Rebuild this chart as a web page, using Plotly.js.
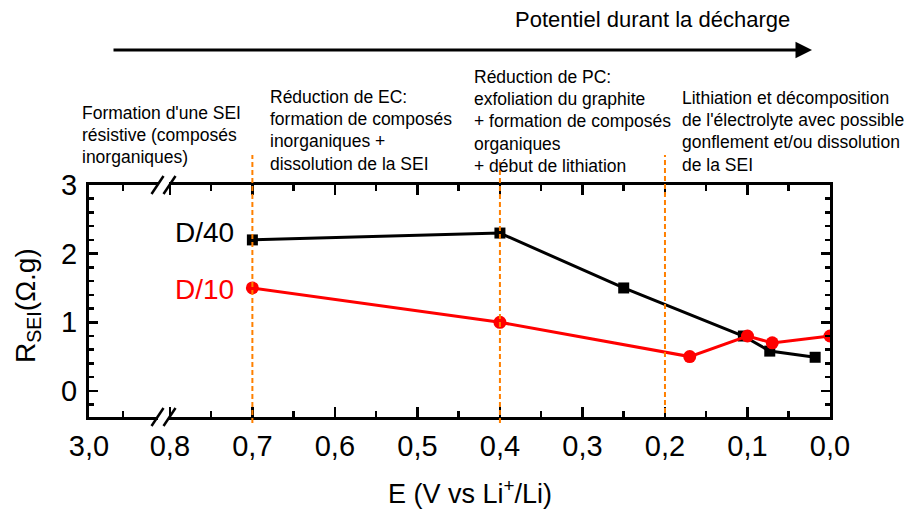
<!DOCTYPE html>
<html>
<head>
<meta charset="utf-8">
<script src="https://cdn.plot.ly/plotly-3.0.1.min.js"></script>
<style>html,body{margin:0;padding:0;background:#fff;}#chart{width:912px;height:511px;}</style>
</head>
<body>
<div id="chart"></div>
<script>
// ---- data ----
const d40_E = [0.70, 0.40, 0.25, 0.105, 0.073, 0.018];
const d40_R = [2.2, 2.3, 1.5, 0.8, 0.58, 0.49];
const d10_E = [0.70, 0.40, 0.17, 0.10, 0.07, 0.0];
const d10_R = [1.5, 1.0, 0.5, 0.8, 0.7, 0.8];
const xTickLabels = ["3,0", "0,8", "0,7", "0,6", "0,5", "0,4", "0,3", "0,2", "0,1", "0,0"];
const yTickLabels = ["0", "1", "2", "3"];
const stageBoundaries = [0.7, 0.4, 0.2];
const stageTexts = [
  ["Formation d'une SEI", "résistive (composés", "inorganiques)"],
  ["Réduction de EC:", "formation de composés", "inorganiques +", "dissolution de la SEI"],
  ["Réduction de PC:", "exfoliation du graphite", "+ formation de composés", "organiques", "+ début de lithiation"],
  ["Lithiation et décomposition", "de l'électrolyte avec possible", "gonflement et/ou dissolution", "de la SEI"]
];
const seriesNames = ["D/40", "D/10"];

// ---- layout helpers (pixel geometry) ----
const W = 912, H = 511;
const M = {l: 89, r: 82, t: 185, b: 94};
const PW = W - M.l - M.r, PH = H - M.t - M.b;
const px2x = p => (p - M.l) / PW;
const py2y = p => (H - M.b - p) / PH;
const BREAK_POS = 0.898;   // axis position that carries the "3,0" label (left of the break)
const FONT = "Liberation Sans, Arial, sans-serif";

const xTickVals = xTickLabels.map((t, i) => i === 0 ? BREAK_POS : parseFloat(t.replace(',', '.')));
const yTickVals = yTickLabels.map(Number);

const traces = [
  {x: d40_E, y: d40_R, name: seriesNames[0], type: 'scatter', mode: 'lines+markers',
   line: {color: '#000000', width: 3}, marker: {symbol: 'square', size: 11, color: '#000000'}},
  {x: d10_E, y: d10_R, name: seriesNames[1], type: 'scatter', mode: 'lines+markers',
   line: {color: '#ff0000', width: 3}, marker: {symbol: 'circle', size: 13, color: '#ff0000'}}
];

const shapes = [];
const blTop = [155, 160, 155], blBot = [423, 423, 413];
stageBoundaries.forEach((b, i) => {
  shapes.push({type: 'line', xref: 'x', yref: 'paper', x0: b, x1: b,
    y0: py2y(blBot[i]), y1: py2y(blTop[i]), layer: 'above',
    line: {color: '#ff8000', width: 2, dash: '5px,3px'}});
});
// axis break marks
const breakAnchor = 0.8077;
[0, 1].forEach(ya => {
  shapes.push({type: 'rect', xref: 'x', yref: 'paper', xsizemode: 'pixel', ysizemode: 'pixel',
    xanchor: breakAnchor, yanchor: ya, x0: -5.5, x1: 5.5, y0: -3, y1: 3, layer: 'above',
    line: {width: 0}, fillcolor: '#ffffff'});
  shapes.push({type: 'line', xref: 'x', yref: 'paper', xsizemode: 'pixel', ysizemode: 'pixel',
    xanchor: breakAnchor, yanchor: ya, x0: -12, y0: -9, x1: 0, y1: 9, layer: 'above',
    line: {color: '#000', width: 2.5}});
  shapes.push({type: 'line', xref: 'x', yref: 'paper', xsizemode: 'pixel', ysizemode: 'pixel',
    xanchor: breakAnchor, yanchor: ya, x0: 0, y0: -9, x1: 12, y1: 9, layer: 'above',
    line: {color: '#000', width: 2.5}});
});

const annotations = [];
// top arrow and title
annotations.push({xref: 'paper', yref: 'paper', x: px2x(812), y: py2y(50), ax: -700, ay: 0,
  axref: 'pixel', ayref: 'pixel', text: '', showarrow: true, arrowhead: 2, arrowsize: 1.1,
  arrowwidth: 3, arrowcolor: '#000'});
annotations.push({xref: 'paper', yref: 'paper', x: px2x(513), y: py2y(19), xanchor: 'left', yanchor: 'middle',
  text: 'Potentiel durant la décharge', showarrow: false, font: {family: FONT, size: 22, color: '#000'}});
// stage descriptions
const blockLeft = [80, 268, 472, 680];
const blockTop = [113, 97, 77, 98];
const lineGap = 22.2;
stageTexts.forEach((lines, i) => {
  lines.forEach((t, j) => {
    annotations.push({xref: 'paper', yref: 'paper', x: px2x(blockLeft[i]), y: py2y(blockTop[i] + j * lineGap),
      xanchor: 'left', yanchor: 'middle', text: t, showarrow: false,
      font: {family: FONT, size: 17.5, color: '#000'}});
  });
});
// series labels
annotations.push({xref: 'paper', yref: 'paper', x: px2x(236), y: py2y(232), xanchor: 'right', yanchor: 'middle',
  text: seriesNames[0], showarrow: false, font: {family: FONT, size: 28, color: '#000'}});
annotations.push({xref: 'paper', yref: 'paper', x: px2x(236), y: py2y(289), xanchor: 'right', yanchor: 'middle',
  text: seriesNames[1], showarrow: false, font: {family: FONT, size: 28, color: '#ff0000'}});
// axis titles
annotations.push({xref: 'paper', yref: 'paper', x: px2x(27), y: py2y(306), xanchor: 'center', yanchor: 'middle',
  textangle: -90, text: 'R<sub>SEI</sub>(Ω.g)', showarrow: false, font: {family: FONT, size: 28, color: '#000'}});
annotations.push({xref: 'paper', yref: 'paper', x: px2x(470), y: py2y(492), xanchor: 'center', yanchor: 'middle',
  text: 'E (V vs Li<sup>+</sup>/Li)', showarrow: false, font: {family: FONT, size: 27, color: '#000'}});

const layout = {
  width: W, height: H,
  margin: M,
  paper_bgcolor: '#fff', plot_bgcolor: '#fff',
  showlegend: false,
  font: {family: FONT, color: '#000'},
  xaxis: {
    range: [BREAK_POS, 0], autorange: false,
    tickmode: 'array', tickvals: xTickVals, ticktext: xTickLabels,
    ticks: 'inside', ticklen: 10, tickwidth: 2.5, tickcolor: '#000',
    minor: {tickmode: 'array', tickvals: [0.857, 0.75, 0.65, 0.55, 0.45, 0.35, 0.25, 0.15, 0.05],
            ticks: 'inside', ticklen: 6, tickwidth: 2.5, tickcolor: '#000', showgrid: false},
    showline: true, linecolor: '#000', linewidth: 3, mirror: 'ticks',
    showgrid: false, zeroline: false,
    tickfont: {family: FONT, size: 29, color: '#000'}, ticklabelstandoff: 1
  },
  yaxis: {
    range: [-0.38, 3], autorange: false,
    tickmode: 'array', tickvals: yTickVals, ticktext: yTickLabels,
    ticks: 'inside', ticklen: 9, tickwidth: 2.5, tickcolor: '#000',
    minor: {dtick: 0.2, tick0: 0, ticks: 'inside', ticklen: 5, tickwidth: 2.5, tickcolor: '#000', showgrid: false},
    showline: true, linecolor: '#000', linewidth: 3, mirror: 'ticks',
    showgrid: false, zeroline: false,
    tickfont: {family: FONT, size: 29, color: '#000'}, ticklabelstandoff: 3
  },
  shapes: shapes,
  annotations: annotations
};

Plotly.newPlot('chart', traces, layout, {staticPlot: true, displayModeBar: false});
</script>
</body>
</html>
